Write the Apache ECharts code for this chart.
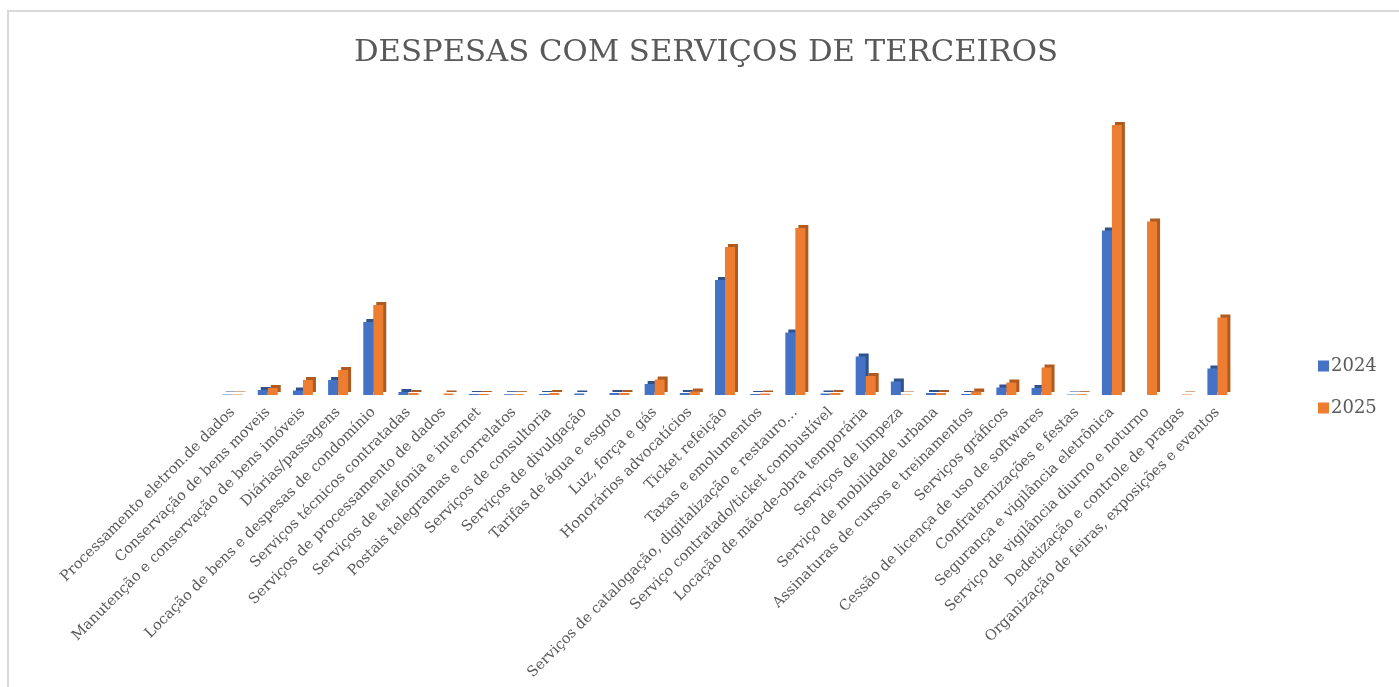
<!DOCTYPE html>
<html>
<head>
<meta charset="utf-8">
<script src="https://cdn.jsdelivr.net/npm/echarts@6/dist/echarts.min.js"></script>
<style>
  html, body { margin: 0; padding: 0; background: #fff; }
  #frame { position: absolute; left: 7px; top: 10px; width: 1400px; height: 690px;
           border-top: 2px solid #d9d9d9; border-left: 2px solid #d9d9d9; }
  #chart { position: absolute; left: 0; top: 0; width: 1399px; height: 687px; }
</style>
</head>
<body>
<div id="frame"></div>
<div id="chart"></div>
<script>
// ----------------------
// Dados
// ----------------------
const categorias = [
  'Processamento eletron.de dados',
  'Conservação de bens moveis',
  'Manutenção e conservação de bens imóveis',
  'Diárias/passagens',
  'Locação de bens e despesas de condomínio',
  'Serviços técnicos contratadas',
  'Serviços de processamento de dados',
  'Serviços de telefonia e internet',
  'Postais telegramas e correlatos',
  'Serviços de consultoria',
  'Serviços de divulgação',
  'Tarifas de água e esgoto',
  'Luz, força e gás',
  'Honorários advocatícios',
  'Ticket refeição',
  'Taxas e emolumentos',
  'Serviços de catalogação, digitalização e restauro…',
  'Serviço contratado/ticket combustível',
  'Locação de mão-de-obra temporária',
  'Serviços de limpeza',
  'Serviço de mobilidade urbana',
  'Assinaturas de cursos e treinamentos',
  'Serviços gráficos',
  'Cessão de licença de uso de softwares',
  'Confraternizações e festas',
  'Segurança e vigilância eletrônica',
  'Serviço de vigilância diurno e noturno',
  'Dedetização e controle de pragas',
  'Organização de feiras, exposições e eventos'
];

const valores2024 = [5, 50, 45, 150, 730, 30, 0, 10, 8, 10, 15, 20, 110, 20, 1150, 10, 625, 15, 385, 135, 20, 10, 75, 70, 5, 1645, 0, 0, 265];
const valores2025 = [5, 70, 150, 250, 900, 20, 15, 10, 8, 20, 0, 20, 155, 35, 1480, 15, 1670, 20, 190, 5, 20, 35, 125, 275, 8, 2700, 1735, 5, 775];

const COLOR_BLUE = '#4472C4';
const COLOR_ORANGE = '#ED7D31';
const COLOR_TEXT = '#595959';
const FONT = 'DejaVu Serif';

// ----------------------
// Gráfico
// ----------------------
const chart = echarts.init(document.getElementById('chart'));
chart.setOption({
  animation: false,
  title: {
    text: 'DESPESAS COM SERVIÇOS DE TERCEIROS',
    left: 349,
    top: 33,
    textStyle: { fontFamily: FONT, fontSize: 30.7, fontWeight: 'normal', color: COLOR_TEXT }
  },
  legend: {
    orient: 'vertical',
    left: 1313,
    top: 352,
    itemWidth: 11,
    itemHeight: 11,
    itemGap: 24,
    icon: 'rect',
    textStyle: { fontFamily: FONT, fontSize: 18, color: COLOR_TEXT, padding: [0, 0, 0, -3] }
  },
  grid: { left: 215, right: 164, top: 95, bottom: 292 },
  xAxis: {
    type: 'category',
    data: categorias,
    axisLine: { show: false },
    axisTick: { show: false },
    axisLabel: {
      interval: 0,
      rotate: 45,
      margin: 15,
      fontFamily: FONT,
      fontSize: 14.5,
      color: COLOR_TEXT
    }
  },
  yAxis: { type: 'value', min: 0, max: 3000, show: false, splitLine: { show: false } },
  series: [
    {
      name: '2024',
      type: 'bar',
      data: valores2024,
      barWidth: 10,
      barGap: '0%',
      itemStyle: { color: COLOR_BLUE, shadowColor: '#2F528F', shadowOffsetX: 3, shadowOffsetY: -3, shadowBlur: 0 }
    },
    {
      name: '2025',
      type: 'bar',
      data: valores2025,
      barWidth: 10,
      barGap: '0%',
      itemStyle: { color: COLOR_ORANGE, shadowColor: '#AE5A21', shadowOffsetX: 3, shadowOffsetY: -3, shadowBlur: 0 }
    }
  ]
});

window.addEventListener('resize', () => chart.resize());
</script>
</body>
</html>
